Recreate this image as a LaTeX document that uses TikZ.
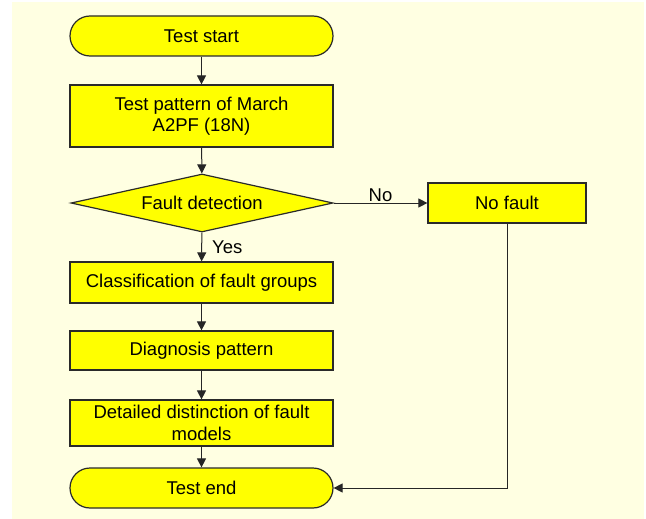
\documentclass[tikz,border=0pt]{standalone}
\usepackage{fontspec}
\setmainfont{Liberation Sans}
\usetikzlibrary{shapes.geometric,arrows.meta}
\definecolor{paper}{HTML}{FFFFE2}
\definecolor{boxfill}{HTML}{FFFF00}
\definecolor{edge}{HTML}{2A2A2A}
\begin{document}
\begin{tikzpicture}[x=1pt,y=-1pt,
  every node/.style={font=\fontsize{18.5}{21.5}\selectfont, text=black},
  procbox/.style={draw=edge, line width=1.2pt, fill=boxfill, rectangle,
    inner sep=0pt, minimum width=263pt, align=center},
  terminal/.style={procbox, rounded corners=20pt, minimum height=40pt},
  decision/.style={draw=edge, line width=1.2pt, fill=boxfill, diamond,
    shape aspect=4.52, inner sep=0pt, minimum width=262pt, minimum height=58pt},
  flow/.style={draw=black!85, line width=1pt, -{Triangle[length=9pt,width=9pt]}},
  lbl/.style={font=\fontsize{18.5}{21.5}\selectfont, inner sep=1pt}
]
\useasboundingbox (0,0) rectangle (646,519);
\fill[paper] (12,2) rectangle (644,519);

% main column
\node[terminal] (start) at (201.5,36) {Test start};
\node[procbox, minimum height=62pt] (pattern) at (201.5,116)
  {Test pattern of March\\A2PF (18N)};
\node[decision] (detect) at (202,203) {Fault detection};
\node[procbox, minimum height=41pt] (classify) at (201.5,282.5)
  {Classification of fault groups};
\node[procbox, minimum height=39pt] (diag) at (201.5,350.5)
  {Diagnosis pattern};
\node[procbox, minimum height=46pt] (detail) at (201.5,423)
  {Detailed distinction of fault\\models};
\node[terminal] (finish) at (201.5,488) {Test end};

% side branch
\node[procbox, minimum width=158pt, minimum height=40pt] (nofault) at (507,203)
  {No fault};

% connectors
\draw[flow] (start) -- (pattern);
\draw[flow] (pattern) -- (detect);
\draw[flow] (detect) -- node[lbl, anchor=west, xshift=9pt] {Yes} (classify);
\draw[flow] (detect) -- node[lbl, above] {No} (nofault);
\draw[flow] (classify) -- (diag);
\draw[flow] (diag) -- (detail);
\draw[flow] (detail) -- (finish);
\draw[flow] (nofault.south) |- (finish.east);
\end{tikzpicture}
\end{document}
